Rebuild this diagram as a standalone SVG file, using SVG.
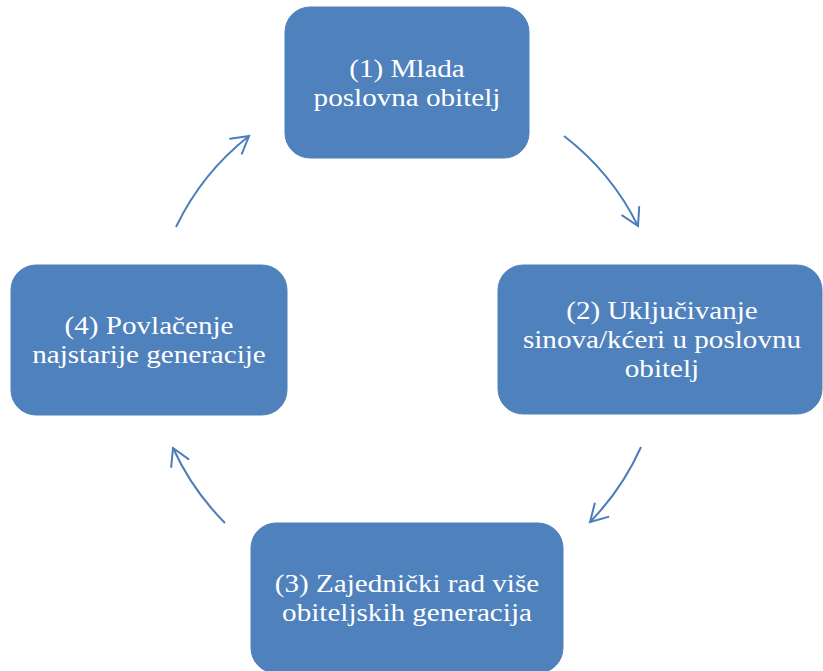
<svg xmlns="http://www.w3.org/2000/svg" width="823" height="671" viewBox="0 0 823 671">
  <style>
    .box { fill: #4F81BD; stroke: #4F81BD; stroke-width: 1; }
    .lbl { font-family: "Liberation Serif", "Times New Roman", serif; font-size: 26px; fill: #FFFFFF; text-anchor: middle; }
    .conn { fill: none; stroke: #4A7EBB; stroke-width: 2; }
  </style>
  <defs>
    <marker id="ah" markerUnits="userSpaceOnUse" orient="auto" refX="0" refY="0" markerWidth="40" markerHeight="40" viewBox="-20 -20 40 40" style="overflow:visible">
      <path d="M-16.5,-9.5 L0,0 L-16.5,9.5" fill="none" stroke="#4A7EBB" stroke-width="2" stroke-linecap="round"/>
    </marker>
  </defs>
  <rect width="823" height="671" fill="#FFFFFF"/>
  <g id="connectors">
    <path class="conn" d="M564,136 A257.5,257.5 0 0 1 638,226" marker-end="url(#ah)"/>
    <path class="conn" d="M641,447 A257.5,257.5 0 0 1 590,522" marker-end="url(#ah)"/>
    <path class="conn" d="M225,523 A257.5,257.5 0 0 1 173,448" marker-end="url(#ah)"/>
    <path class="conn" d="M176,227 A257.5,257.5 0 0 1 249,136" marker-end="url(#ah)"/>
  </g>
  <g id="node1">
    <rect class="box" x="285" y="7" width="244" height="151" rx="25" ry="25"/>
    <text class="lbl" transform="translate(407,0) scale(1.12,1)" x="0" y="77">(1) Mlada</text>
    <text class="lbl" transform="translate(407,0) scale(1.12,1)" x="0" y="106">poslovna obitelj</text>
  </g>
  <g id="node2">
    <rect class="box" x="498" y="265" width="324" height="149" rx="25" ry="25"/>
    <text class="lbl" transform="translate(662,0) scale(1.12,1)" x="0" y="319">(2) Uključivanje</text>
    <text class="lbl" transform="translate(662,0) scale(1.12,1)" x="0" y="348">sinova/kćeri u poslovnu</text>
    <text class="lbl" transform="translate(662,0) scale(1.12,1)" x="0" y="377">obitelj</text>
  </g>
  <g id="node3">
    <rect class="box" x="251" y="523" width="312" height="150" rx="25" ry="25"/>
    <text class="lbl" transform="translate(407,0) scale(1.12,1)" x="0" y="592">(3) Zajednički rad više</text>
    <text class="lbl" transform="translate(407,0) scale(1.12,1)" x="0" y="621">obiteljskih generacija</text>
  </g>
  <g id="node4">
    <rect class="box" x="11" y="265" width="276" height="150" rx="25" ry="25"/>
    <text class="lbl" transform="translate(149,0) scale(1.12,1)" x="0" y="334">(4) Povlačenje</text>
    <text class="lbl" transform="translate(149,0) scale(1.12,1)" x="0" y="363">najstarije generacije</text>
  </g>
</svg>
